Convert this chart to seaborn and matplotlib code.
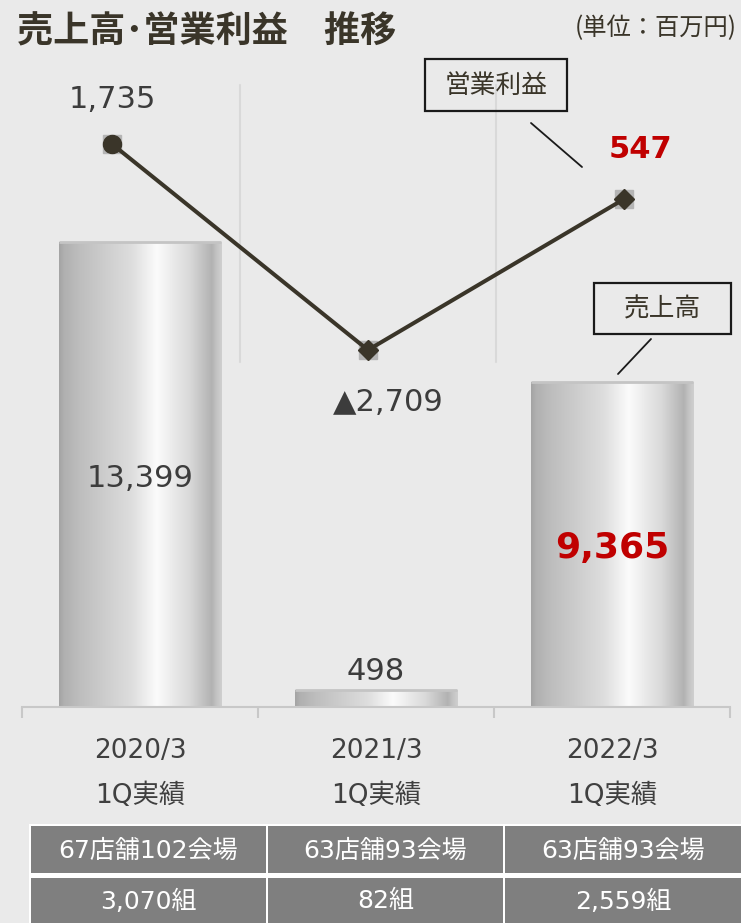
import numpy as np
import pandas as pd
import seaborn as sns
import matplotlib.pyplot as plt
from matplotlib.patches import Rectangle
from matplotlib.lines import Line2D
import matplotlib.transforms as mtrans
from matplotlib.colors import LinearSegmentedColormap

# ---- data ----
periods = ["2020/3", "2021/3", "2022/3"]
period_sub = ["1Q実績", "1Q実績", "1Q実績"]
sales = [13399, 498, 9365]
profit = [1735, -2709, 547]
sales_labels = ["13,399", "498", "9,365"]
profit_labels = ["1,735", "▲2,709", "547"]
stores = ["67店舗102会場", "63店舗93会場", "63店舗93会場"]
groups = ["3,070組", "82組", "2,559組"]
title = "売上高･営業利益　推移"
unit = "(単位：百万円)"
legend_profit = "営業利益"
legend_sales = "売上高"

# ---- setup ----
W, H = 741, 923
sns.set_theme(style="white")
plt.rcParams['font.family'] = ['DejaVu Sans', 'Noto Sans CJK JP']
BG = '#eaeaea'
DARK = '#3a3529'
TXT = '#3c3c3c'
RED = '#c00000'

fig = plt.figure(figsize=(W / 100, H / 100), dpi=100, facecolor=BG)


def fx(x):
    return x / W


def fy(y):
    return 1 - y / H


def pt(px):
    return px * 0.72


df = pd.DataFrame({"period": periods, "sales": sales, "profit": profit})

# ---- bars ----
ax = fig.add_axes([fx(22), fy(707), 708 / W, 647 / H])
ax.set_facecolor(BG)
sns.barplot(data=df, x="period", y="sales", ax=ax, width=0.69,
            color="#d0d0d0", saturation=1, edgecolor="none")

stops = [(0.0, "#a4a4a4"), (0.03, "#b0b0b0"), (0.12, "#bdbdbd"), (0.45, "#dedede"),
         (0.6, "#fbfbfb"), (0.8, "#dadada"), (0.94, "#b2b2b2"), (0.97, "#c4c4c4"),
         (1.0, "#cfcfcf")]
cmap = LinearSegmentedColormap.from_list("cyl", stops)
grad = np.linspace(0, 1, 256).reshape(1, -1)
for p in list(ax.patches):
    x0, w, h = p.get_x(), p.get_width(), p.get_height()
    im = ax.imshow(grad, cmap=cmap, extent=(x0, x0 + w, 0, h), aspect="auto",
                   zorder=p.get_zorder() + 0.1, interpolation="bilinear")
    im.set_clip_path(p)
    ax.plot([x0, x0 + w], [h, h], color="#c4c4c4", lw=2, zorder=p.get_zorder() + 0.2,
            solid_capstyle="butt")

ax.set_xlim(-0.5, 2.5)
ax.set_ylim(0, 647 / 0.0347)
ax.set_xlabel("")
ax.set_ylabel("")
ax.set_yticks([])
ax.set_xticks([-0.5, 0.5, 1.5, 2.5])
ax.set_xticklabels([])
ax.tick_params(axis="x", length=pt(11), width=1.5, color="#c8c8c8", bottom=True)
for s in ["top", "left", "right"]:
    ax.spines[s].set_visible(False)
ax.spines["bottom"].set_color("#c8c8c8")
ax.spines["bottom"].set_linewidth(1.5)

# bar labels
for i, (v, lab) in enumerate(zip(sales, sales_labels)):
    if i == 2:
        ax.annotate(lab, (i, v / 2), xytext=(0, pt(-3)), textcoords="offset points",
                    ha="center", va="center", fontsize=26, fontweight="bold",
                    color=RED, zorder=5)
    elif v > 3000:
        ax.annotate(lab, (i, v / 2), xytext=(0, pt(-4)), textcoords="offset points",
                    ha="center", va="center", fontsize=22, color=TXT, zorder=5)
    else:
        ax.annotate(lab, (i, v), xytext=(0, pt(18)), textcoords="offset points",
                    ha="center", va="center", fontsize=22, color=TXT, zorder=5)

# category labels
tr = mtrans.blended_transform_factory(ax.transData, fig.transFigure)
for i, (a, b) in enumerate(zip(periods, period_sub)):
    ax.text(i, fy(751), a, transform=tr, ha="center", va="center", fontsize=19,
            color="#404040")
    ax.text(i, fy(796), b, transform=tr, ha="center", va="center", fontsize=19,
            color="#404040")

# ---- line ----
ax2 = fig.add_axes([fx(22), fy(707), 708 / W, 647 / H])
ax2.patch.set_alpha(0)
ax2.axis("off")
ax2.axvline(0.5, ymin=0.533, ymax=0.961, color="#d9d9d9", lw=1.5, zorder=0)
ax2.axvline(1.5, ymin=0.533, ymax=0.961, color="#d9d9d9", lw=1.5, zorder=0)
xs = list(range(len(periods)))
ax2.plot(xs, profit, ls="none", marker="s", ms=13, color="#b5b5b5", zorder=1.5)
sns.lineplot(x=xs, y=profit, ax=ax2, color=DARK, lw=2.9, zorder=2)
for i, v in enumerate(profit):
    ax2.plot(i, v, marker="o" if i == 0 else "D", ms=13 if i == 0 else 10,
             color=DARK, ls="none", zorder=3)
ax2.set_xlim((22 - 112) / 256, (730 - 112) / 256)
ax2.set_ylim(1735 - (707 - 144) / 0.04636, 1735 + (144 - 60) / 0.04636)

offsets = [(0, 44), (20, -52), (16, 50)]
for i, (v, lab) in enumerate(zip(profit, profit_labels)):
    dx, dy = offsets[i]
    if i == 2:
        ax2.annotate(lab, (i, v), xytext=(pt(dx), pt(dy)), textcoords="offset points",
                     ha="center", va="center", fontsize=22, fontweight="bold", color=RED)
    else:
        ax2.annotate(lab, (i, v), xytext=(pt(dx), pt(dy)), textcoords="offset points",
                     ha="center", va="center", fontsize=22, color=TXT)

# ---- callout boxes ----
def callout(x0, y0, x1, y1, text, lx0, ly0, lx1, ly1):
    fig.add_artist(Rectangle((fx(x0), fy(y1)), fx(x1) - fx(x0), fy(y0) - fy(y1),
                             transform=fig.transFigure, fill=False,
                             edgecolor="#1a1a1a", lw=1.6))
    fig.text(fx((x0 + x1) / 2), fy((y0 + y1) / 2 + 1), text, ha="center", va="center",
             fontsize=18.5, color=DARK)
    fig.add_artist(Line2D([fx(lx0), fx(lx1)], [fy(ly0), fy(ly1)],
                          transform=fig.transFigure, color="#1a1a1a", lw=1.3))


callout(425, 59, 567, 111, legend_profit, 531, 123, 582, 167)
callout(594, 283, 731, 334, legend_sales, 651, 339, 618, 374)

# ---- title ----
fig.text(fx(17), fy(32), title, ha="left", va="center", fontsize=26,
         fontweight="bold", color=DARK, family=["Noto Sans CJK JP"])
fig.text(fx(737), fy(28), unit, ha="right", va="center", fontsize=17.5,
         color=DARK, family=["Noto Sans CJK JP"])

# ---- table ----
cols = [(31, 266), (268, 503), (505, 741)]
rows = [(826, 873, stores), (878, 923, groups)]
fig.add_artist(Rectangle((fx(29), 0), 1 - fx(29), fy(824), transform=fig.transFigure,
                         facecolor="white", edgecolor="none"))
for (ya, yb, vals) in rows:
    for (xa, xb), val in zip(cols, vals):
        fig.add_artist(Rectangle((fx(xa), fy(yb)), fx(xb) - fx(xa), fy(ya) - fy(yb),
                                 transform=fig.transFigure, facecolor="#7f7f7f",
                                 edgecolor="none"))
        fig.text(fx((xa + xb) / 2), fy((ya + yb) / 2 + 1), val, ha="center",
                 va="center", fontsize=18, color="white")

fig.savefig("out.png", dpi=100, facecolor=BG)
